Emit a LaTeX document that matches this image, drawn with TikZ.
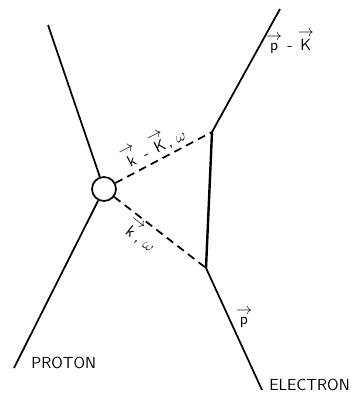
\documentclass[tikz,border=0pt]{standalone}
\usepackage{amsmath}
\usepackage{tikz}
\usetikzlibrary{positioning, calc}

\newcommand{\vecl}[1]{\shortstack[c]{$\rightarrow$\\[-1pt]#1}}

\begin{document}
\begin{tikzpicture}[x=0.75pt, y=-0.75pt, line width=1.3pt,
  every node/.style={font=\sffamily\large},
  virtual/.style={dash pattern=on 6pt off 4pt},
  blob/.style={circle, draw, fill=white, minimum size=18pt, inner sep=0pt}]
  \useasboundingbox (0,0) rectangle (356,396);
  % vertices
  \node[blob] (V) at (104,189) {};
  \coordinate (Up) at (212,132);
  \coordinate (Lo) at (206,268);
  % free ends
  \coordinate (Pin)  at (14,368);
  \coordinate (Pout) at (48,25);
  \coordinate (Ein)  at (262,390);
  \coordinate (Eout) at (280,9);
  % proton
  \draw (Pin) -- (V);
  \draw (V) -- (Pout);
  % electron
  \draw (Ein) -- (Lo);
  \draw[line width=1.8pt] (Lo) -- (Up);
  \draw (Up) -- (Eout);
  % photons
  \draw[virtual] (V) -- (Up);
  \draw[virtual] (V) -- (Lo);
  % labels
  \node[anchor=base west] (proton) at ($(Pin)+(12,0)$) {PROTON};
  \node[anchor=base west] (electron) at ($(Ein)+(2,0)$) {ELECTRON};
  \node (p) at (244,318) {\vecl{p}};
  \node (pK) at (290,42) {\vecl{p} - \vecl{K}};
  \node[rotate=27] (kK) at (153,146) {\vecl{k} - \vecl{K}, $\omega$};
  \node[rotate=-38] (kw) at (141,235) {\vecl{k}, $\omega$};
\end{tikzpicture}
\end{document}
